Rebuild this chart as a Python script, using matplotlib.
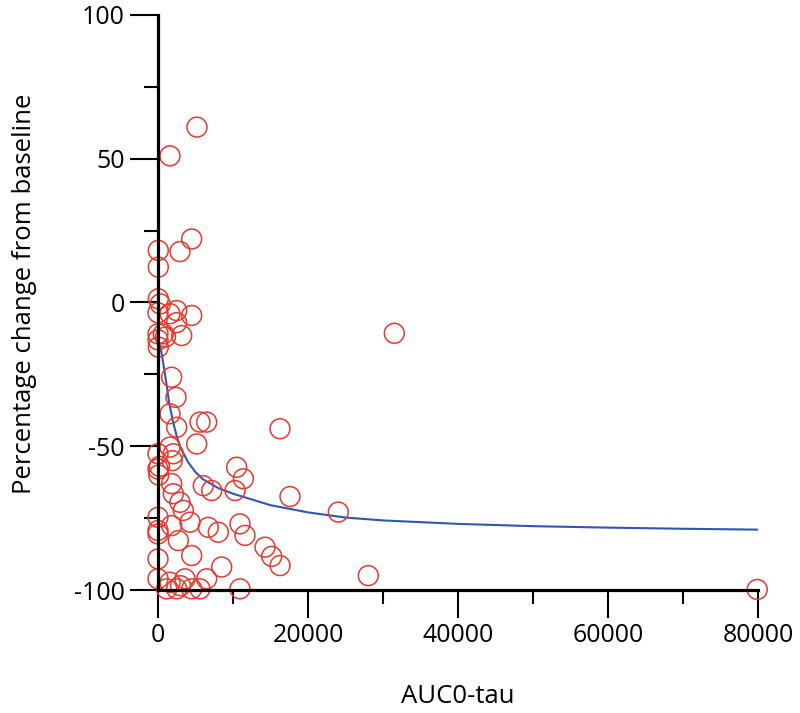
import matplotlib
matplotlib.use("Agg")
import matplotlib.pyplot as plt
from matplotlib.ticker import MultipleLocator

plt.rcParams['font.family'] = ['Open Sans', 'DejaVu Sans']

# Observed points: AUC0-tau vs percentage change from baseline
auc = [5200, 1600, 4490, 2930, 40, 40,
       40, 0, 1600, 2490, 4490, 0, 710, 3160, 40, 0,
       1820, 2400, 1600, 2490, 5600, 6490, 5160,
       0, 0, 100, 1600, 2040, 1900,
       16270, 10490, 11380, 10270, 6040, 7160, 17600, 24040,
       1820, 2040, 2930, 3380, 4270, 0, 1820, 0, 0,
       6710, 8040, 10930, 11600, 2710, 4490, 14270, 15160, 16270,
       8490, 0, 0, 1600, 3600, 6490, 1160, 2490, 4490, 5600, 10930,
       28040, 31510, 79900, 300, 2490, 1000, 200, 3000]
pct = [61.0, 51.0, 22.1, 17.7, 18.1, 12.3,
       1.3, -3.6, -3.9, -2.8, -4.5, -10.9, -10.9, -11.5, -15.5, -13.0,
       -26.0, -33.0, -38.7, -43.4, -41.6, -41.6, -49.2,
       -52.6, -57.9, -60.0, -50.3, -52.6, -55.0,
       -43.9, -57.3, -61.3, -65.4, -63.7, -65.4, -67.5, -72.9,
       -63.0, -66.5, -69.5, -72.3, -76.4, -74.7, -77.6, -79.3, -80.5,
       -78.2, -79.9, -77.0, -81.0, -82.8, -88.0, -85.1, -88.3, -91.5,
       -92.0, -89.2, -96.1, -97.3, -96.1, -96.1, -99.6, -99.6, -99.6, -99.6, -99.6,
       -95.0, -10.7, -99.8, -0.5, -7.0, -12.0, -57.0, -98.5]

# Fitted curve
curve_x = [300, 500, 750, 1000, 1500, 2000, 2500, 3000, 4000, 5000, 6000,
           8000, 10000, 12500, 15000, 20000, 25000, 30000, 40000, 50000,
           60000, 70000, 80000]
curve_y = [-15.0, -18.0, -22.0, -26.0, -35.0, -41.5, -46.5, -50.5, -55.5,
           -59.0, -61.5, -64.5, -66.5, -68.5, -70.5, -73.0, -74.8, -75.8,
           -77.0, -77.8, -78.3, -78.7, -79.0]

xticks = [0, 20000, 40000, 60000, 80000]
yticks = [-100, -50, 0, 50, 100]

fig = plt.figure(figsize=(8.0, 7.13), dpi=100)
ax = fig.add_axes([0.1975, 0.1725, 0.75, 0.8065])

ax.plot(curve_x, curve_y, color='#3155b5', lw=1.5, zorder=2)
ax.scatter(auc, pct, s=205, facecolors='none', edgecolors='#e8392c',
           linewidths=1.1, clip_on=False, zorder=3)

ax.set_xlim(0, 80000)
ax.set_ylim(-100, 100)
ax.set_xticks(xticks)
ax.set_yticks(yticks)
ax.set_xticklabels([str(v) for v in xticks])
ax.set_yticklabels([str(v) for v in yticks])
ax.xaxis.set_minor_locator(MultipleLocator(10000))
ax.yaxis.set_minor_locator(MultipleLocator(25))

for s in ['top', 'right']:
    ax.spines[s].set_visible(False)
for s in ['left', 'bottom']:
    ax.spines[s].set_linewidth(2.3)
    ax.spines[s].set_zorder(4)

ax.tick_params(which='major', direction='out', length=20, width=1.5,
               labelsize=18, pad=4, colors='black')
ax.tick_params(which='minor', direction='out', length=10, width=1.5)

ax.set_xlabel('AUC0-tau', fontsize=18.5, labelpad=26)
ax.set_ylabel('Percentage change from baseline', fontsize=18.5)
ax.yaxis.set_label_coords(-0.202, 0.515)

fig.savefig('out.png', dpi=100)
